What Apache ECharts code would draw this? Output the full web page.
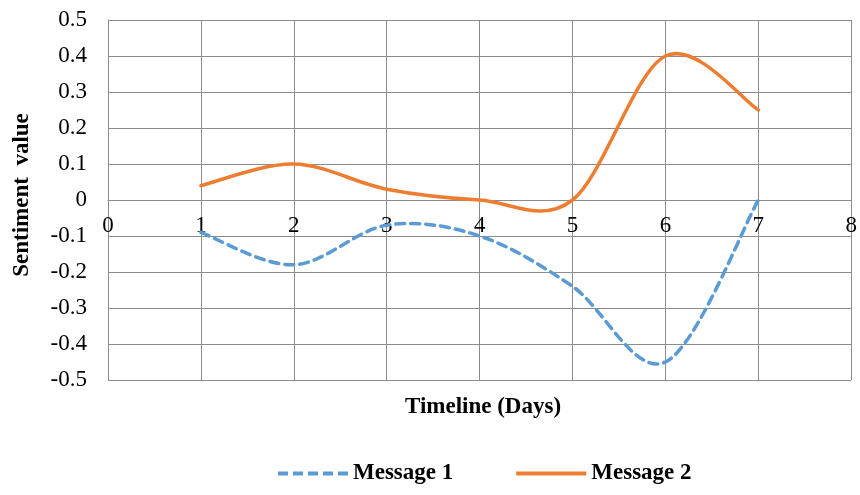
<!DOCTYPE html>
<html>
<head>
<meta charset="utf-8">
<script src="https://cdn.jsdelivr.net/npm/echarts@6/dist/echarts.min.js"></script>
<style>
  html, body { margin: 0; padding: 0; background: #fff; }
  #chart { width: 860px; height: 495px; }
</style>
</head>
<body>
<div id="chart"></div>
<script>
// Timeline in days and sentiment readings for each message
const days = [1, 2, 3, 4, 5, 6, 7];
const message1 = [-0.09, -0.18, -0.07, -0.10, -0.24, -0.45, 0.0];
const message2 = [0.04, 0.10, 0.03, 0.0, 0.0, 0.40, 0.25];
const seriesNames = ['Message 1', 'Message 2'];
const xAxisTitle = 'Timeline (Days)';
const yAxisTitle = 'Sentiment  value';

const FONT = 'Liberation Serif';
const GRID_COLOR = '#8c8c8c';
const BLUE = '#5B9BD5';
const ORANGE = '#ED7D31';

const pairs = (xs, ys) => xs.map((x, i) => [x, ys[i]]);

// Smooth curve through the points (cardinal spline as cubic Béziers),
// mapped to pixels with the chart's own coordinate system.
function smoothCurve(values, lineStyle) {
  return function (params, api) {
    if (params.dataIndex !== 0) return null;
    const P = days.map((d, i) => api.coord([d, values[i]]));
    const n = P.length;
    let d = 'M' + P[0][0] + ',' + P[0][1];
    for (let i = 0; i < n - 1; i++) {
      const p0 = P[i - 1] || P[i];
      const p1 = P[i];
      const p2 = P[i + 1];
      const p3 = P[i + 2] || P[i + 1];
      const c1 = [p1[0] + (p2[0] - p0[0]) / 6, p1[1] + (p2[1] - p0[1]) / 6];
      const c2 = [p2[0] - (p3[0] - p1[0]) / 6, p2[1] - (p3[1] - p1[1]) / 6];
      d += ' C' + c1[0] + ',' + c1[1] + ' ' + c2[0] + ',' + c2[1] + ' ' + p2[0] + ',' + p2[1];
    }
    return {
      type: 'path',
      shape: { pathData: d },
      style: Object.assign({ fill: null, lineJoin: 'round' }, lineStyle)
    };
  };
}

const dashIcon = 'path://M0,0h10v4h-10z M15,0h10v4h-10z M30,0h10v4h-10z M45,0h10v4h-10z M60,0h10v4h-10z';
const solidIcon = 'path://M0,0h70v4h-70z';

const chart = echarts.init(document.getElementById('chart'), null, { renderer: 'canvas' });

chart.setOption({
  animation: false,
  backgroundColor: '#ffffff',
  textStyle: { fontFamily: FONT },
  grid: { left: 108, right: 6, top: 20, bottom: 115, containLabel: false },
  xAxis: {
    type: 'value',
    min: 0, max: 8, interval: 1,
    offset: -180, // axis sits on the zero line, halfway up the plot
    axisLine: { show: true, onZero: false, lineStyle: { color: GRID_COLOR, width: 1 } },
    axisTick: { show: false },
    axisLabel: { color: '#000', fontFamily: FONT, fontSize: 23, margin: 14 },
    splitLine: { show: true, lineStyle: { color: GRID_COLOR, width: 1 } }
  },
  yAxis: {
    type: 'value',
    min: -0.5, max: 0.5, interval: 0.1,
    axisLine: { show: true, onZero: false, lineStyle: { color: GRID_COLOR, width: 1 } },
    axisTick: { show: false },
    axisLabel: {
      color: '#000', fontFamily: FONT, fontSize: 23, margin: 21,
      formatter: v => {
        const r = Math.round(v * 10) / 10;
        return r === 0 ? '0' : String(r);
      }
    },
    splitLine: { show: true, lineStyle: { color: GRID_COLOR, width: 1 } }
  },
  legend: {
    left: 273,
    top: 457,
    itemWidth: 70,
    itemHeight: 4,
    itemGap: 63,
    textStyle: { color: '#000', fontFamily: FONT, fontSize: 23, fontWeight: 'bold' },
    data: [
      { name: seriesNames[0], icon: dashIcon, itemStyle: { color: BLUE } },
      { name: seriesNames[1], icon: solidIcon, itemStyle: { color: ORANGE } }
    ]
  },
  graphic: [
    {
      type: 'text',
      x: 483,
      y: 407,
      style: {
        text: xAxisTitle, font: 'bold 23px ' + FONT, fill: '#000',
        align: 'center', verticalAlign: 'middle'
      }
    },
    {
      type: 'text',
      rotation: Math.PI / 2,
      x: 22,
      y: 195,
      style: {
        text: yAxisTitle, font: 'bold 23px ' + FONT, fill: '#000',
        align: 'center', verticalAlign: 'middle'
      }
    }
  ],
  series: [
    {
      name: seriesNames[0],
      type: 'custom',
      clip: true,
      itemStyle: { color: BLUE },
      data: pairs(days, message1),
      encode: { x: 0, y: 1 },
      renderItem: smoothCurve(message1, {
        stroke: BLUE, lineWidth: 3.5, lineDash: [9, 6], lineCap: 'round'
      })
    },
    {
      name: seriesNames[1],
      type: 'custom',
      clip: true,
      itemStyle: { color: ORANGE },
      data: pairs(days, message2),
      encode: { x: 0, y: 1 },
      renderItem: smoothCurve(message2, {
        stroke: ORANGE, lineWidth: 3.5, lineCap: 'round'
      })
    }
  ]
});
</script>
</body>
</html>
